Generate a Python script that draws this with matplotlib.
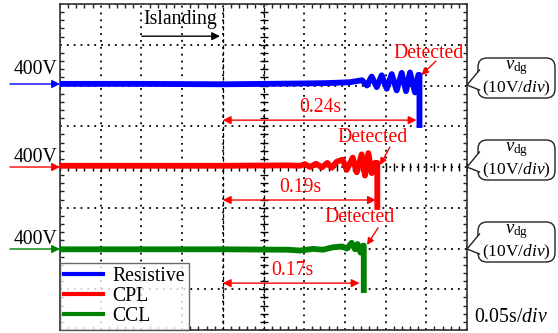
import numpy as np
import matplotlib
matplotlib.use("Agg")
import matplotlib.pyplot as plt
from matplotlib.patches import FancyBboxPatch, Polygon

plt.rcParams['font.family'] = ['Liberation Serif', 'DejaVu Serif']
plt.rcParams['mathtext.fontset'] = 'custom'
plt.rcParams['mathtext.rm'] = 'Liberation Serif'
plt.rcParams['mathtext.it'] = 'Liberation Serif:italic'

# traces: time (s), level (divisions from bottom, 10 V/div)
res_t = [0.0, 0.10, 0.20, 0.30, 0.33, 0.356, 0.371, 0.3771, 0.3829, 0.3891, 0.3952, 0.4014,
         0.4075, 0.4136, 0.4198, 0.4251, 0.4300, 0.4361, 0.4402, 0.4416, 0.4416]
res_v = [6.04, 6.04, 6.03, 6.05, 6.06, 6.08, 6.13, 6.00, 6.22, 5.96, 6.25, 5.92,
         6.28, 5.88, 6.31, 5.86, 6.32, 5.83, 6.26, 6.26, 5.03]

cpl_t = [0.0, 0.20, 0.28, 0.2948, 0.301, 0.3071, 0.3145, 0.3215, 0.3284, 0.3338, 0.3399,
         0.3473, 0.3522, 0.3596, 0.3645, 0.3706, 0.3747, 0.3788, 0.3829, 0.3870, 0.3898, 0.3898]
cpl_v = [4.03, 4.03, 4.04, 4.03, 4.07, 4.00, 4.08, 3.99, 4.10, 3.98, 4.13,
         4.18, 3.93, 4.23, 3.87, 4.31, 3.79, 4.34, 3.85, 4.10, 4.10, 3.02]

ccl_t = [0.0, 0.20, 0.28, 0.2948, 0.3108, 0.3231, 0.3354, 0.3464, 0.3526,
         0.3583, 0.3624, 0.3655, 0.3692, 0.3722, 0.3732, 0.3732]
ccl_v = [1.98, 1.98, 1.97, 1.95, 1.99, 1.97, 2.03, 2.05, 2.00,
         2.14, 1.98, 2.11, 1.90, 2.07, 2.07, 0.98]

labels = ['Resistive', 'CPL', 'CCL']
colors = ['#0000ff', '#ff0000', '#008000']
t_island = 0.20
t_detect = [0.44, 0.39, 0.37]
delay_labels = ['0.24s', '0.19s', '0.17s']
arrow_lvl = [5.15, 3.19, 1.15]

FS = 14.2

fig = plt.figure(figsize=(5.58, 3.33), dpi=100)
ax = fig.add_axes([60 / 558, 3 / 333, 407 / 558, 326 / 333])
ax.set_xlim(0, 0.5)
ax.set_ylim(0, 8)
ax.set_xticks(np.arange(0, 0.501, 0.05))
ax.set_yticks(np.arange(0, 8.01, 1))
ax.set_xticks(np.arange(0, 0.501, 0.01), minor=True)
ax.set_yticks(np.arange(0, 8.01, 0.2), minor=True)
ax.tick_params(which='both', direction='in', top=True, right=True,
               labelbottom=False, labelleft=False)
ax.tick_params(which='major', length=0)
ax.tick_params(which='minor', length=3, width=1, color='#222222')
ax.grid(True, which='major', color='k', linestyle=(0, (1, 2.8)), linewidth=1.3)
for s in ax.spines.values():
    s.set_color('#333333')
    s.set_linewidth(1.2)

# oscilloscope centre lines
ax.axvline(0.25, color='k', lw=0.9, ls=(0, (3, 2)))
ax.plot(np.full(41, 0.25), np.arange(0, 8.01, 0.2), '_', ms=6, mew=1, color='k')
ax.plot(np.arange(0, 0.501, 0.01), np.full(51, 4.0), '|', ms=6, mew=1, color='k')
ax.axvline(t_island, color='k', lw=0.9, ls=(0, (3, 2)))

lines = []
for tt, vv, c, lab in zip([res_t, cpl_t, ccl_t], [res_v, cpl_v, ccl_v], colors, labels):
    ln, = ax.plot(tt, vv, color=c, lw=4.2, solid_joinstyle='round', label=lab, zorder=3)
    lines.append(ln)

# islanding marker
ax.annotate('', xy=(t_island, 7.21), xytext=(0.097, 7.21),
            arrowprops=dict(arrowstyle='-|>', color='k', lw=1, mutation_scale=12))
ax.text(0.1474, 7.63, 'Islanding', fontsize=FS, ha='center', va='center')

# detection delays
for td, lab, yl in zip(t_detect, delay_labels, arrow_lvl):
    ax.annotate('', xy=(t_island, yl), xytext=(td - 0.002, yl),
                arrowprops=dict(arrowstyle='<|-|>', color='red', lw=1, mutation_scale=12,
                                shrinkA=0, shrinkB=0), zorder=4)
    ax.text((t_island + td) / 2, yl + 0.3, lab, fontsize=FS, color='red',
            ha='center', va='center', zorder=4)

leg = ax.legend(handles=lines, loc='lower left', fontsize=FS, frameon=True, fancybox=False,
                borderaxespad=0, borderpad=0.2, labelspacing=0.05, handlelength=2.0,
                handletextpad=0.45)
leg.get_frame().set_edgecolor('#444444')
leg.get_frame().set_linewidth(1)
for h in leg.legend_handles:
    h.set_linewidth(3)
leg.set_zorder(5)

# pixel overlay for things around the screen
ov = fig.add_axes([0, 0, 1, 1], zorder=6)
ov.set_xlim(0, 558)
ov.set_ylim(333, 0)
ov.axis('off')
ov.patch.set_alpha(0)

for y_arrow, y_txt, c in zip([84, 167, 249], [70, 157, 240], colors):
    ov.annotate('', xy=(60, y_arrow), xytext=(10, y_arrow),
                arrowprops=dict(arrowstyle='-|>', color=c, lw=1, mutation_scale=12,
                                shrinkA=0, shrinkB=0))
    ov.text(35, y_txt, '400V', fontsize=FS, ha='center', va='center')

det_txt = [(429, 53), (373, 137), (360, 218)]
det_arr = [((436, 61), (421.5, 75)), ((390, 147), (380, 165)), ((378, 228), (367, 245))]
for (tx, ty), (a, b) in zip(det_txt, det_arr):
    ov.text(tx, ty, 'Detected', fontsize=FS, color='red', ha='center', va='center')
    ov.annotate('', xy=b, xytext=a,
                arrowprops=dict(arrowstyle='-|>', color='red', lw=1, mutation_scale=10,
                                shrinkA=0, shrinkB=0))

for top in [58, 140, 222]:
    box = FancyBboxPatch((478, top), 77, 40, boxstyle='round,pad=0,rounding_size=9',
                         facecolor='white', edgecolor='#222222', lw=1)
    ov.add_patch(box)
    ptr = [(479.5, top + 12), (467, top + 27), (479.5, top + 32)]
    ov.add_patch(Polygon(ptr, closed=True, facecolor='white', edgecolor='none'))
    ov.plot([p[0] for p in ptr], [p[1] for p in ptr], color='#222222', lw=1)
    ov.text(516.5, top + 10, r'$v_{\mathrm{dg}}$', fontsize=13.5, ha='center', va='center')
    ov.text(516.5, top + 30.5, r'(10V/$div$)', fontsize=12.5, ha='center', va='center')

ov.text(474, 317, r'0.05s/$div$', fontsize=FS, ha='left', va='center')

fig.savefig('out.png', dpi=100)
